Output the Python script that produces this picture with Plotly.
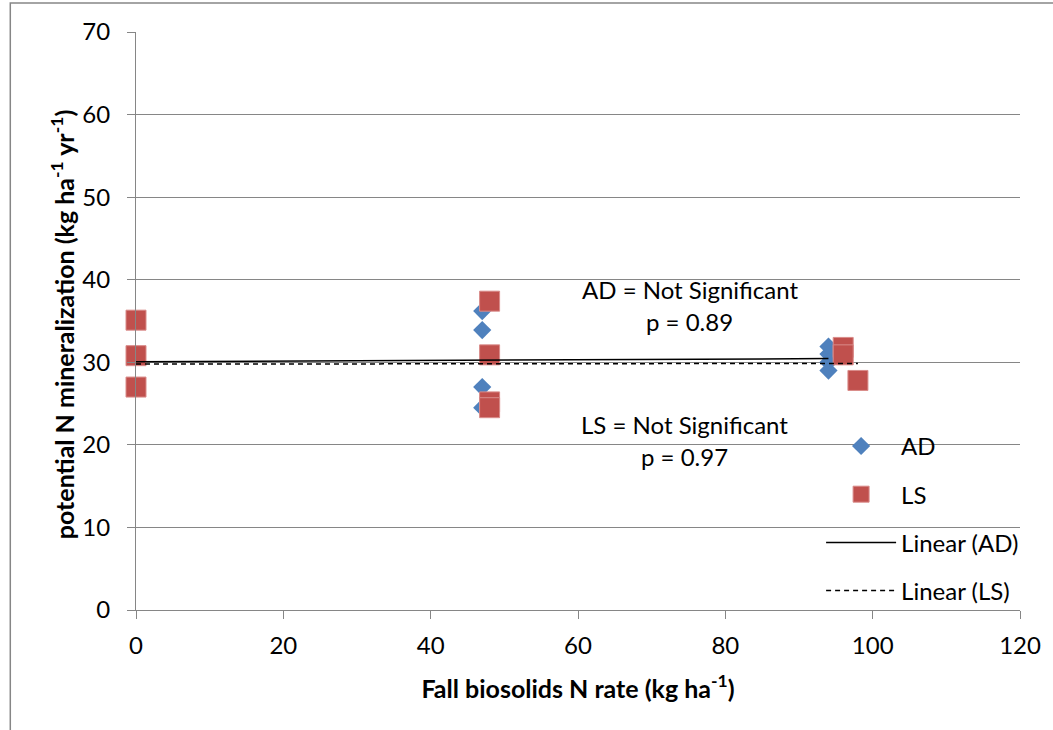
import plotly.graph_objects as go

# Observations: fall biosolids N rate vs potential N mineralization
ad_rate = [0, 0, 0, 47, 47, 47, 47, 94, 94, 94, 94]
ad_min = [35.1, 30.9, 27.0, 36.2, 33.9, 27.0, 24.5, 31.9, 31.0, 30.0, 29.0]

ls_rate = [0, 0, 0, 48, 48, 48, 48, 96, 96, 98]
ls_min = [35.1, 30.8, 27.0, 37.4, 30.9, 25.2, 24.5, 31.8, 30.9, 27.8]

# Linear trend endpoints
trend_ad_x = [0, 94]
trend_ad_y = [30.05, 30.45]
trend_ls_x = [0, 98]
trend_ls_y = [29.78, 29.86]

x_ticks = [0, 20, 40, 60, 80, 100, 120]
y_ticks = [0, 10, 20, 30, 40, 50, 60, 70]

FONT = "Lato"
FS = 24
GRAY = "#868686"
BLUE = "#4F81BD"
RED = "#C0504D"

fig = go.Figure()

fig.add_trace(go.Scatter(
    x=ad_rate, y=ad_min, mode="markers", name="AD", legendgroup="a",
    cliponaxis=False,
    marker=dict(symbol="diamond", size=14, color=BLUE, line=dict(width=0)),
))
fig.add_trace(go.Scatter(
    x=ls_rate, y=ls_min, mode="markers", name="LS", legendgroup="b",
    cliponaxis=False,
    marker=dict(symbol="square", size=20, color=RED,
                line=dict(width=1, color="#D98C8A")),
))
fig.add_trace(go.Scatter(
    x=trend_ad_x, y=trend_ad_y, mode="lines", name="Linear (AD)", legendgroup="c",
    line=dict(color="black", width=1.5),
))
fig.add_trace(go.Scatter(
    x=trend_ls_x, y=trend_ls_y, mode="lines", name="Linear (LS)", legendgroup="d",
    line=dict(color="black", width=1.5, dash="5px,4px"),
))

annots = [
    dict(x=75.2, y=38.8, text="AD = Not Significant"),
    dict(x=75.2, y=35.0, text="p = 0.89"),
    dict(x=74.4, y=22.5, text="LS = Not Significant"),
    dict(x=74.4, y=18.6, text="p = 0.97"),
]
for a in annots:
    fig.add_annotation(x=a["x"], y=a["y"], text=a["text"], showarrow=False,
                       xref="x", yref="y", font=dict(family=FONT, size=FS, color="black"))

# vertical axis title
fig.add_annotation(
    x=-0.0835, y=0.493, xref="paper", yref="paper", showarrow=False,
    xanchor="center", yanchor="middle", textangle=-90,
    text="<b>potential N mineralization (kg ha<sup>-1</sup> yr<sup>-1</sup>)</b>",
    font=dict(family=FONT, size=25, color="black"),
)

# outer chart frame (left and top edges)
fig.add_shape(type="path", xref="paper", yref="paper",
              path="M -0.1422,-0.3 L -0.1422,1.0502 L 1.2,1.0502",
              line=dict(color=GRAY, width=1.5))

fig.update_layout(
    width=1053, height=730,
    margin=dict(l=136, r=31, t=32, b=120),
    paper_bgcolor="white", plot_bgcolor="white",
    font=dict(family=FONT, size=FS, color="black"),
    showlegend=True,
    legend=dict(
        x=0.775, xanchor="left", y=0.322, yanchor="top",
        bgcolor="rgba(0,0,0,0)", itemwidth=70,
        traceorder="grouped", tracegroupgap=14,
        font=dict(family=FONT, size=FS, color="black"),
    ),
    xaxis=dict(
        range=[0, 120], tickvals=x_ticks, showgrid=False, zeroline=False,
        showline=True, linecolor=GRAY, linewidth=1,
        ticks="outside", ticklen=8, tickcolor=GRAY, ticklabelstandoff=6,
        tickfont=dict(family=FONT, size=FS, color="black"),
        title=dict(text="<b>Fall biosolids N rate (kg ha<sup>-1</sup>)</b>",
                   font=dict(family=FONT, size=25, color="black"), standoff=22),
    ),
    yaxis=dict(
        range=[0, 70], tickvals=y_ticks, showgrid=True, gridcolor=GRAY, gridwidth=1,
        zeroline=False, showline=True, linecolor=GRAY, linewidth=1,
        ticks="outside", ticklen=8, tickcolor=GRAY, ticklabelstandoff=12,
        tickfont=dict(family=FONT, size=FS, color="black"),
    ),
)

fig.write_html("out.html")
